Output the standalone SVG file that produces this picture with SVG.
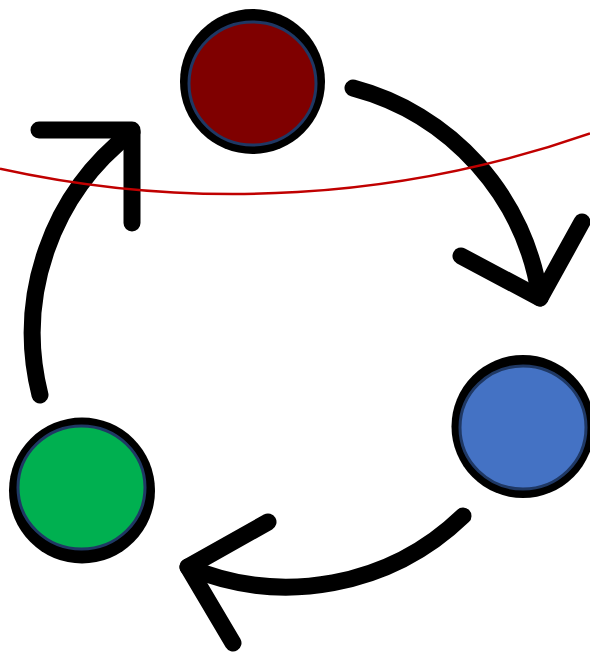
<svg xmlns="http://www.w3.org/2000/svg" width="590" height="658" viewBox="0 0 590 658">
<style>
.ring{fill:#000000}
.inner{stroke:#1f3864;stroke-width:3}
.arrow{fill:none;stroke:#000000;stroke-width:17;stroke-linecap:round;stroke-linejoin:round}
.redline{fill:none;stroke:#c00000;stroke-width:2.5}
</style>
<rect width="590" height="658" fill="#ffffff"/>
<g id="connectors">
<path class="arrow" d="M353,88 A255,255 0 0 1 540,298"/>
<path class="arrow" d="M461,256 L540,298 L582,222"/>
<path class="arrow" d="M463,516 A254,254 0 0 1 188,567"/>
<path class="arrow" d="M268,522 L188,567 L233,643"/>
<path class="arrow" d="M40,395 A253,253 0 0 1 132,132"/>
<path class="arrow" d="M39,130 L132,130 L132,223"/>
</g>
<g id="node-red">
<circle class="ring" cx="252.5" cy="81.5" r="72.5"/>
<ellipse class="inner" cx="252.5" cy="83.5" rx="63.5" ry="61.5" fill="#7f0000"/>
</g>
<g id="node-blue">
<circle class="ring" cx="523" cy="426.5" r="71.5"/>
<ellipse class="inner" cx="523" cy="427.5" rx="63" ry="61.5" fill="#4472c4"/>
</g>
<g id="node-green">
<circle class="ring" cx="82" cy="490.5" r="73"/>
<ellipse class="inner" cx="81.5" cy="487.5" rx="63.5" ry="61.5" fill="#00b050"/>
</g>
<g id="red-curve">
<path class="redline" d="M0,168.6 A1082,1082 0 0 0 590,133.4"/>
</g>
</svg>
